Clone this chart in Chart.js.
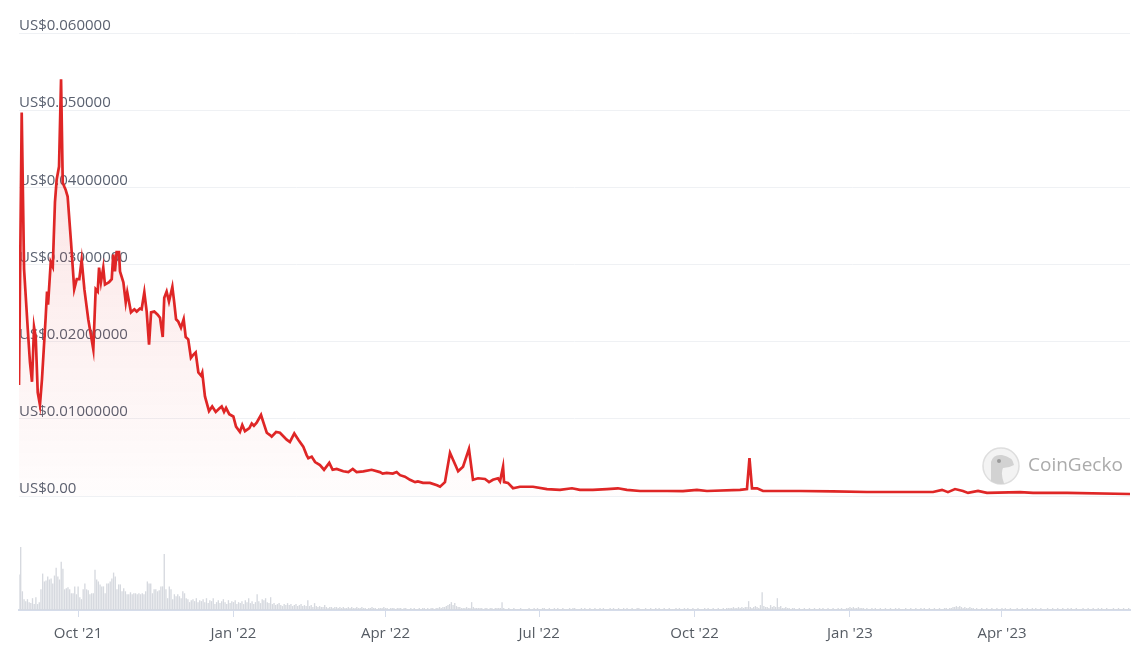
<!DOCTYPE html>
<html>
<head>
<meta charset="utf-8">
<script src="https://cdn.jsdelivr.net/npm/chart.js@4.4.0/dist/chart.umd.min.js"></script>
<style>
  html, body { margin: 0; padding: 0; background: #fff; }
  #wrap { position: relative; width: 1148px; height: 662px; }
  canvas { position: absolute; left: 0; }
  #price { top: 0; }
  #volume { top: 530px; }
</style>
</head>
<body>
<div id="wrap">
  <canvas id="price" width="1148" height="520"></canvas>
  <canvas id="volume" width="1148" height="132"></canvas>
</div>
<script>
// x values are days counted from 27 Aug 2021
const DAY_MAX = 657.8;

const tickDays = [35, 127, 217, 308, 400, 492, 582];
const tickLabels = ["Oct '21", "Jan '22", "Apr '22", "Jul '22", "Oct '22", "Jan '23", "Apr '23"];

const priceTicks = [0, 0.01, 0.02, 0.03, 0.04, 0.05, 0.06];
const priceTickLabels = ['US$0.00', 'US$0.01000000', 'US$0.02000000', 'US$0.03000000',
  'US$0.04000000', 'US$0.050000', 'US$0.060000'];

const priceDays = [
  0, 1.6, 3.0, 5.2, 6.5, 7.7, 8.9, 9.9, 11.1, 12.4, 13.6, 15.8, 16.6, 17.2, 18.8, 20.0,
  21.3, 22.3, 23.7, 24.9, 25.9, 26.8, 27.6, 28.8, 30.8, 32.7, 34.2, 35.7, 37.1, 38.7,
  41.0, 44.0, 45.4, 46.6, 47.4, 48.5, 49.9, 50.9, 53.3, 54.9, 55.8, 56.8, 57.8, 59.2,
  59.8, 61.8, 63.2, 64.1, 66.3, 68.3, 69.7, 71.6, 72.6, 74.2, 75.6, 77.0, 78.2, 80.1,
  82.1, 83.5, 85.1, 86.0, 87.4, 88.8, 90.8, 91.9, 93.0, 94.3, 95.9, 97.5, 98.7, 100.2,
  101.8, 103.2, 104.6, 106.2, 107.8, 108.5, 110.1, 112.5, 114.4, 116.5, 118.4, 120.0,
  121.4, 122.6, 124.5, 126.9, 128.5, 130.8, 132.2, 133.8, 136.4, 137.8, 139.1, 140.7,
  143.3, 144.6, 146.7, 148.6, 149.6, 152.2, 154.5, 158.5, 160.4, 163.0, 165.4, 168.3,
  170.3, 171.3, 173.3, 175.3, 178.2, 180.6, 183.7, 185.7, 188.1, 192.0, 195.0, 197.6,
  199.9, 203.9, 208.8, 213.7, 215.3, 217.7, 221.3, 223.6, 225.6, 228.5, 231.5, 234.5,
  236.2, 239.2, 243.3, 247.5, 249.3, 252.2, 255.2, 257.0, 260.0, 262.9, 266.4, 268.8,
  271.8, 275.9, 278.3, 280.6, 283.6, 284.8, 286.6, 287.2, 289.5, 292.5, 296.6, 300.8,
  304.3, 312.6, 320.3, 327.4, 332.1, 339.8, 348.1, 354.6, 359.9, 367.7, 383.7, 393.1,
  401.4, 407.3, 426.9, 431.0, 432.5, 434.0, 437.0, 440.5, 462.4, 481.9, 502.1, 541.2,
  546.5, 550.0, 554.2, 558.9, 561.9, 567.8, 573.1, 592.7, 600.4, 620.5, 657.8
];
const priceValues = [
  0.0144, 0.0497, 0.0294, 0.0216, 0.0173, 0.0148, 0.0219, 0.0206, 0.0134, 0.0118, 0.0151,
  0.0232, 0.0265, 0.0248, 0.0303, 0.0297, 0.0381, 0.0410, 0.0427, 0.0540, 0.0406, 0.0401,
  0.0397, 0.0388, 0.0329, 0.0268, 0.0281, 0.0281, 0.0306, 0.0268, 0.0229, 0.0190, 0.0268,
  0.0265, 0.0296, 0.0277, 0.0296, 0.0274, 0.0277, 0.0281, 0.0313, 0.0291, 0.0316, 0.0316,
  0.0291, 0.0277, 0.0251, 0.0264, 0.0238, 0.0242, 0.0239, 0.0243, 0.0242, 0.0264, 0.0239,
  0.0196, 0.0238, 0.0239, 0.0235, 0.0231, 0.0206, 0.0257, 0.0265, 0.0252, 0.0271, 0.0251,
  0.0229, 0.0226, 0.0218, 0.0229, 0.0206, 0.0203, 0.0179, 0.0183, 0.0186, 0.0160, 0.0156,
  0.0160, 0.0129, 0.0110, 0.0116, 0.0109, 0.0113, 0.0116, 0.0109, 0.0114, 0.0106, 0.0103,
  0.0090, 0.0083, 0.0092, 0.0084, 0.0088, 0.0094, 0.0091, 0.0095, 0.0105, 0.0096, 0.0082,
  0.0079, 0.0077, 0.0083, 0.0082, 0.0073, 0.0070, 0.0081, 0.0073, 0.0064, 0.0053, 0.0049,
  0.0051, 0.0044, 0.0040, 0.0034, 0.0043, 0.0034, 0.0035, 0.0032, 0.0031, 0.0035, 0.0031,
  0.0032, 0.0034, 0.0031, 0.0029, 0.0030, 0.0029, 0.0031, 0.0027, 0.0025, 0.0021, 0.0018,
  0.0019, 0.0017, 0.0017, 0.0014, 0.0012, 0.0018, 0.0056, 0.0047, 0.0032, 0.0038, 0.0061,
  0.0021, 0.0023, 0.0022, 0.0018, 0.0021, 0.0023, 0.0019, 0.0038, 0.0018, 0.0017, 0.0010,
  0.0012, 0.0012, 0.0012, 0.0009, 0.0008, 0.0010, 0.0008, 0.0008, 0.0009, 0.0010, 0.0008,
  0.00065, 0.00065, 0.00062, 0.0008, 0.00065, 0.0008, 0.0009, 0.0049, 0.0010, 0.0010,
  0.00065, 0.00065, 0.0006, 0.00052, 0.00052, 0.0008, 0.0005, 0.0009, 0.00065, 0.0004,
  0.00065, 0.0004, 0.0005, 0.0004, 0.0004, 0.00026
];

// daily trading volume, relative units, one value per day from day 0
const volumes = [
  36, 64, 19, 11, 9, 11, 8, 7, 12, 6,
  13, 6, 8, 21, 37, 29, 30, 34, 31, 32,
  27, 35, 43, 34, 31, 49, 42, 21, 22, 23,
  21, 17, 17, 24, 16, 24, 13, 11, 21, 27,
  21, 20, 16, 17, 17, 41, 31, 29, 26, 24,
  24, 17, 27, 27, 29, 32, 38, 34, 21, 26,
  26, 19, 22, 19, 16, 16, 18, 16, 17, 17,
  16, 17, 16, 17, 16, 19, 29, 27, 27, 17,
  21, 21, 19, 20, 24, 24, 57, 21, 12, 24,
  21, 11, 16, 14, 16, 14, 12, 19, 17, 12,
  11, 8, 10, 11, 9, 12, 8, 10,
  9, 11, 8, 12, 7, 10, 9, 12, 6, 8, 10, 7, 9, 11, 8, 6, 10, 7, 9, 8, 10, 6, 8,
  7, 9, 6, 10, 8, 12, 7, 9, 6, 8, 16, 9, 7, 11, 10, 12, 8, 7, 13, 6,
  7, 5, 6, 7, 5, 4, 6, 5, 7, 5, 6, 4, 5, 6, 4, 5, 6, 4, 5, 4,
  10, 4, 5, 3, 7, 4, 3, 4, 3, 3, 5, 3, 2, 3, 3, 2, 3, 3, 2, 3,
  2, 3, 2, 2, 3, 2, 3, 2, 2, 3, 2, 2, 3, 2, 2, 1, 2, 2, 3, 2,
  2, 1, 2, 2, 2, 3, 2, 2, 1, 2, 2, 2, 1, 2, 2, 2, 1, 2, 2, 1,
  1, 2, 1, 2, 1, 1, 2, 1, 2, 2, 1, 2, 1, 2, 2, 1, 2, 2, 3, 2,
  3, 3, 4, 5, 6, 8, 5, 7, 4, 3, 3, 2, 2, 2, 3, 2, 2, 8, 3, 2,
  2, 2, 2, 2, 1, 2, 2, 1, 2, 2, 1, 2, 2, 2, 2, 8, 2, 1, 1, 2,
  1, 1, 2, 1, 1, 1, 2, 1, 1, 1,
  1, 2, 1, 1, 2, 1, 2, 1, 1, 2, 2, 1, 1, 2, 1, 1, 2, 1, 2, 1,
  1, 2, 1, 1, 1, 2, 1, 2, 2, 1, 1, 1, 2, 1, 2, 1, 1, 2, 1, 1,
  2, 1, 1, 2, 1, 2, 1, 1, 1, 2, 1, 2, 1, 1, 2, 1, 1, 2, 1, 2,
  1, 1, 2, 1, 1, 2, 2, 1, 1, 1, 2, 1, 1, 2, 1, 1, 2, 1, 2, 1,
  1, 2, 1, 1, 2, 1, 1, 1, 2, 1, 2, 1, 1, 2, 1, 2, 1, 1, 2, 1,
  1, 2, 1, 1, 1, 2, 1, 2, 1, 1, 2, 1, 1, 2, 1, 1, 2, 1, 2, 2,
  2, 2, 3, 2, 2, 3, 2, 3, 2, 3, 3, 9, 3, 2, 3, 4, 3, 2, 5, 18,
  4, 3, 3, 2, 5, 3, 4, 3, 12, 3, 4, 2, 2, 3, 2, 2, 1, 2, 2, 1,
  1, 2, 1, 1, 2, 1, 1, 2, 1, 1, 2, 1, 1, 2, 1, 2, 1, 1, 2, 1,
  1, 2, 1, 1, 2, 1, 2, 1, 1, 2,
  2, 3, 2, 3, 2, 2, 3, 2, 2, 2, 1, 2, 1, 1, 2, 1, 2, 1, 1, 2,
  1, 1, 2, 1, 1, 2, 1, 1, 2, 1, 2, 1, 1, 1, 2, 1, 1, 2, 1, 1,
  2, 1, 1, 2, 1, 2, 1, 1, 2, 1, 1, 2, 1, 1, 2, 1, 1, 2, 2, 1,
  2, 2, 3, 3, 4, 3, 4, 3, 2, 3, 2, 2, 3, 2, 2, 1, 2, 1, 1, 2,
  1, 1, 2, 1, 1, 2, 1, 1, 2, 1, 1, 2, 1, 2, 1, 1, 2, 1, 1, 1,
  2, 1, 1, 2, 1, 1, 2, 1, 1, 2, 1, 2, 1, 1, 2, 1, 1, 1, 2, 1,
  1, 2, 1, 1, 2, 1, 1, 2, 1, 1, 2, 1, 2, 1, 1, 2, 1, 1, 1, 2,
  1, 1, 2, 1, 1, 2, 1, 1, 2, 1, 2, 1, 1, 2, 1, 1, 1, 2, 1, 1,
  2, 1, 1, 2, 1, 1, 2
];

const LINE_RED = '#df2626';
const PAD = { left: 19, right: 18 };

const watermark = {
  id: 'watermark',
  beforeDatasetsDraw(chart) {
    const ctx = chart.ctx;
    const cx = 1001, cy = 466;
    ctx.save();
    ctx.beginPath();
    ctx.arc(cx, cy, 18, 0, Math.PI * 2);
    ctx.fillStyle = '#f3f3f3';
    ctx.fill();
    ctx.lineWidth = 1.5;
    ctx.strokeStyle = '#dedede';
    ctx.stroke();
    ctx.clip();
    // gecko head
    ctx.beginPath();
    ctx.moveTo(cx - 10, cy + 20);
    ctx.lineTo(cx - 10, cy - 4);
    ctx.quadraticCurveTo(cx - 8, cy - 12, cx + 1, cy - 11);
    ctx.quadraticCurveTo(cx + 12, cy - 9, cx + 13, cy - 1);
    ctx.quadraticCurveTo(cx + 8, cy + 2, cx + 2, cy + 2);
    ctx.quadraticCurveTo(cx - 1, cy + 8, cx + 4, cy + 20);
    ctx.closePath();
    ctx.fillStyle = '#d2d2d2';
    ctx.fill();
    ctx.beginPath();
    ctx.arc(cx - 2, cy - 5, 2, 0, Math.PI * 2);
    ctx.fillStyle = '#9a9a9a';
    ctx.fill();
    ctx.restore();
    ctx.save();
    ctx.font = '19px "Open Sans"';
    ctx.fillStyle = '#ababab';
    ctx.textBaseline = 'middle';
    ctx.fillText('CoinGecko', 1028, cy);
    ctx.restore();
  }
};

new Chart(document.getElementById('price'), {
  type: 'line',
  data: {
    datasets: [{
      data: priceDays.map((d, i) => ({ x: d, y: priceValues[i] })),
      borderColor: LINE_RED,
      borderWidth: 2.7,
      pointRadius: 0,
      tension: 0,
      fill: 'origin',
      backgroundColor(context) {
        const area = context.chart.chartArea;
        if (!area) return 'rgba(223,38,38,0.08)';
        const g = context.chart.ctx.createLinearGradient(0, area.top, 0, area.bottom);
        g.addColorStop(0, 'rgba(223,38,38,0.16)');
        g.addColorStop(1, 'rgba(223,38,38,0.01)');
        return g;
      },
    }],
  },
  options: {
    responsive: false,
    animation: false,
    devicePixelRatio: 1,
    layout: { padding: { left: PAD.left, right: PAD.right, top: 33, bottom: 24 } },
    plugins: { legend: { display: false }, tooltip: { enabled: false } },
    scales: {
      x: { type: 'linear', min: 0, max: DAY_MAX, display: false },
      y: {
        min: 0,
        max: 0.06,
        afterBuildTicks(scale) { scale.ticks = priceTicks.map((v) => ({ value: v })); },
        border: { display: false },
        grid: { color: '#eff1f4', lineWidth: 1, drawTicks: false },
        ticks: {
          mirror: true,
          padding: 0,
          labelOffset: -7,
          color: '#5a6170',
          font: { family: '"Open Sans"', size: 15 },
          callback: (v, i) => priceTickLabels[i],
        },
      },
    },
  },
  plugins: [watermark],
});

new Chart(document.getElementById('volume'), {
  type: 'bar',
  data: {
    datasets: [{
      data: volumes.map((v, i) => ({ x: i, y: v })),
      backgroundColor: '#d6d9df',
      barPercentage: 0.8,
      categoryPercentage: 1,
    }],
  },
  options: {
    responsive: false,
    animation: false,
    devicePixelRatio: 1,
    layout: { padding: { left: PAD.left, right: PAD.right, top: 17, bottom: 11 } },
    plugins: { legend: { display: false }, tooltip: { enabled: false } },
    scales: {
      x: {
        type: 'linear',
        min: 0,
        max: DAY_MAX,
        offset: false,
        afterBuildTicks(scale) { scale.ticks = tickDays.map((v) => ({ value: v })); },
        border: { display: true, color: '#d5dcea', width: 2 },
        grid: { offset: false, drawOnChartArea: false, drawTicks: true, tickLength: 7, color: '#d5dcea', lineWidth: 1 },
        ticks: {
          autoSkip: false,
          maxRotation: 0,
          padding: 8,
          color: '#555b63',
          font: { family: '"Open Sans"', size: 15 },
          callback: (v, i) => tickLabels[i],
        },
      },
      y: { display: false, min: 0, max: 64 },
    },
  },
});
</script>
</body>
</html>
